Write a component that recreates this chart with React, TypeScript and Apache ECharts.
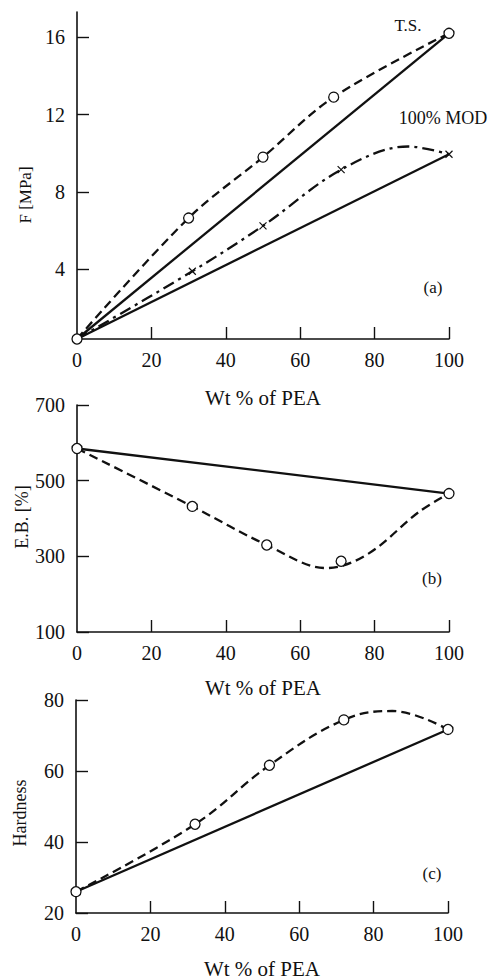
import React, { useEffect, useRef } from "react";
import * as echarts from "echarts";

// shared x axis
const xTickValues = [0, 20, 40, 60, 80, 100];
const xTickMarks = [20, 40, 60, 80, 100];
const xTitle = "Wt % of PEA";

// (a) F [MPa]
const fTicks = [4, 8, 12, 16];
const tsMarkers = [[0, 0.4], [30, 6.65], [50, 9.8], [69, 12.9], [100, 16.2]];
const tsCurve = [[0, 0.4], [30, 6.65], [50, 9.8], [69, 12.9], [100, 16.2]];
const tsLinear = [[0, 0.4], [100, 16.2]];
const modMarkers = [[31, 3.9], [50, 6.25], [71, 9.15], [100, 9.95]];
const modCurve = [[0, 0.4], [31, 3.9], [50, 6.25], [71, 9.15], [89, 10.35], [100, 9.95]];
const modLinear = [[0, 0.4], [100, 9.95]];

// (b) E.B. [%]
const ebTicks = [100, 300, 500, 700];
const ebMarkers = [[0, 585], [31, 432], [51, 330], [71, 287], [100, 466]];
const ebCurve = [[0, 585], [31, 432], [51, 330], [67, 269], [78, 305], [92, 418], [100, 466]];
const ebLinear = [[0, 585], [100, 466]];

// (c) Hardness
const hTicks = [20, 40, 60, 80];
const hMarkers = [[0, 26], [32, 45], [52, 61.6], [72, 74.4], [100, 71.7]];
const hCurve = [[0, 26], [32, 45], [52, 61.6], [72, 74.4], [85, 76.9], [100, 71.7]];
const hLinear = [[0, 26], [100, 71.7]];

const FONT = "'Liberation Serif', 'DejaVu Serif', serif";
const INK = "#111";

function xAxisFor(gridIndex: number, nameGap: number) {
  return {
    type: "value",
    gridIndex,
    min: 0,
    max: 100,
    axisLine: { lineStyle: { color: INK, width: 1.6 } },
    axisTick: { inside: true, length: 12, customValues: xTickMarks, lineStyle: { color: INK, width: 1.4 } },
    axisLabel: { customValues: xTickValues, margin: 11, fontSize: 20, fontFamily: FONT, color: INK },
    splitLine: { show: false },
    name: xTitle,
    nameLocation: "middle",
    nameGap,
    nameTextStyle: { fontSize: 21, fontFamily: FONT, color: INK },
  };
}

function yAxisFor(gridIndex: number, min: number, max: number, ticks: number[]) {
  return {
    type: "value",
    gridIndex,
    min,
    max,
    axisLine: { show: true, lineStyle: { color: INK, width: 1.6 } },
    axisTick: { show: true, inside: true, length: 12, customValues: ticks, lineStyle: { color: INK, width: 1.4 } },
    axisLabel: { customValues: ticks, margin: 12, fontSize: 20, fontFamily: FONT, color: INK },
    splitLine: { show: false },
  };
}

function lineSeries(idx: number, data: number[][], type: string | number[], smooth: number | boolean) {
  return {
    type: "line",
    xAxisIndex: idx,
    yAxisIndex: idx,
    data,
    smooth,
    showSymbol: false,
    symbol: "none",
    lineStyle: { color: INK, width: 2.3, type },
    z: 2,
  };
}

function circles(idx: number, data: number[][]) {
  return {
    type: "scatter",
    xAxisIndex: idx,
    yAxisIndex: idx,
    data,
    symbol: "circle",
    symbolSize: 10,
    itemStyle: { color: "#fff", borderColor: INK, borderWidth: 1.3, opacity: 1 },
    z: 5,
  };
}

function crosses(idx: number, data: number[][]) {
  return {
    type: "scatter",
    xAxisIndex: idx,
    yAxisIndex: idx,
    data,
    symbol: "path://M0,0L10,10M10,0L0,10",
    symbolSize: 7,
    itemStyle: { color: "none", borderColor: INK, borderWidth: 1.2, opacity: 1 },
    z: 5,
  };
}

function label(text: string, x: number, y: number, size: number, rotate = 0) {
  return {
    type: "text",
    x,
    y,
    rotation: rotate,
    style: {
      text,
      fontSize: size,
      fontFamily: FONT,
      fill: INK,
      align: "center",
      verticalAlign: "middle",
    },
    z: 10,
  };
}

export default function App() {
  const ref = useRef<HTMLDivElement>(null);
  useEffect(() => {
    document.body.style.margin = "0";
    if (!ref.current) return;
    const chart = echarts.init(ref.current, undefined, { renderer: "svg" });
    chart.setOption({
      animation: false,
      backgroundColor: "#fff",
      grid: [
        { left: 77, top: 12, width: 372, height: 327 },
        { left: 77, top: 405, width: 372, height: 227 },
        { left: 76, top: 700, width: 372, height: 226 },
      ],
      xAxis: [xAxisFor(0, 48), xAxisFor(1, 45), xAxisFor(2, 45)],
      yAxis: [
        yAxisFor(0, 0.4, 17.3, fTicks),
        yAxisFor(1, 100, 700, ebTicks),
        yAxisFor(2, 20, 80, hTicks),
      ],
      series: [
        lineSeries(0, tsCurve, [9, 5], 0.35),
        lineSeries(0, tsLinear, "solid", false),
        lineSeries(0, modCurve, [12, 5, 3, 5], 0.35),
        lineSeries(0, modLinear, "solid", false),
        circles(0, tsMarkers),
        crosses(0, modMarkers),
        lineSeries(1, ebCurve, [9, 5], 0.35),
        lineSeries(1, ebLinear, "solid", false),
        circles(1, ebMarkers),
        lineSeries(2, hCurve, [9, 5], 0.4),
        lineSeries(2, hLinear, "solid", false),
        circles(2, hMarkers),
      ],
      graphic: [
        label("F [MPa]", 25, 195, 17, Math.PI / 2),
        label("E.B. [%]", 22, 517, 18, Math.PI / 2),
        label("Hardness", 20, 813, 18, Math.PI / 2),
        label("T.S.", 408, 25, 17),
        label("100% MOD", 443, 118, 18),
        label("(a)", 433, 287, 17),
        label("(b)", 432, 578, 17),
        label("(c)", 432, 873, 17),
      ],
    });
    return () => chart.dispose();
  }, []);
  return <div ref={ref} style={{ width: 490, height: 980 }} />;
}
